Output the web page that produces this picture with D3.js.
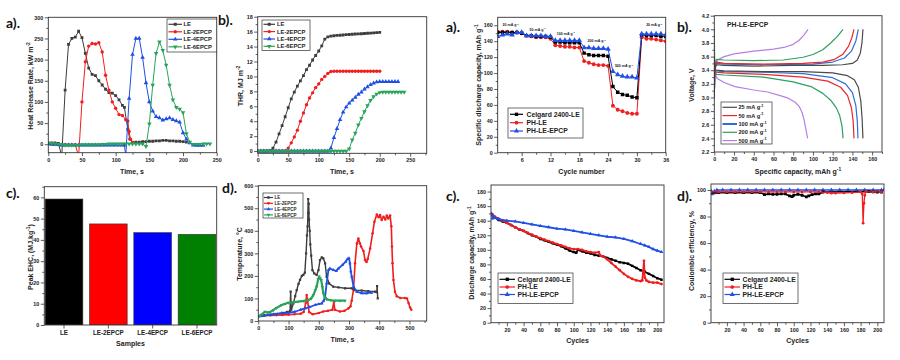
<!DOCTYPE html>
<html><head><meta charset="utf-8">
<script src="https://cdn.jsdelivr.net/npm/d3@7/dist/d3.min.js"></script>
<style>
body{margin:0;background:#fff;}
svg{display:block;font-family:"Liberation Sans",Arial,sans-serif;font-weight:bold;}
</style></head><body>
<svg id="chart" width="900" height="360"></svg>
<script>
// ================= DATA =================
// a) Heat release rate (time s, kW m-2)
const hrrNames = ["LE","LE-2EPCP","LE-4EPCP","LE-6EPCP"];
const hrrLE = [[0,3],[5,3],[10,3],[15,2],[20,-28],[25,128],[30,236],[35,250],[40,253],[45,267],[50,252],[55,215],[60,180],[65,165],[70,162],[75,150],[80,140],[85,130],[90,122],[95,121],[100,115],[105,105],[110,92],[113,87],[118,35],[121,12],[125,4],[130,5],[135,5],[140,6],[145,6],[150,7],[155,7],[160,8],[165,8],[170,9],[175,9],[180,8],[185,8],[190,7],[195,7],[200,6],[205,5]];
const hrr2 = [[0,1],[5,0],[10,0],[15,-1],[20,-1],[25,-1],[30,-1],[35,-1],[40,-1],[45,-28],[50,100],[55,195],[60,232],[65,238],[70,237],[75,240],[80,218],[85,163],[90,128],[95,100],[100,85],[105,70],[110,68],[115,58],[118,55],[120,30],[122,12],[126,4]];
const hrr4 = [[0,1],[5,0],[10,-1],[15,-1],[20,-2],[25,-2],[30,-2],[35,-2],[40,-2],[45,-2],[50,-2],[55,-2],[60,-2],[65,-2],[70,-2],[75,-2],[80,-2],[85,-2],[90,-2],[95,-2],[100,-2],[105,-2],[110,-2],[113,-2],[115,-28],[120,108],[125,212],[130,250],[135,250],[140,205],[145,145],[150,100],[155,78],[160,65],[165,62],[170,57],[175,60],[180,62],[185,58],[190,55],[195,52],[200,27],[205,12],[210,3],[215,-2],[220,-3],[225,-3],[230,-3]];
const hrr6 = [[0,2],[5,2],[10,1],[15,0],[20,-1],[25,-2],[30,-2],[35,-2],[40,-2],[45,-2],[50,-1],[55,-1],[60,-1],[65,-1],[70,-1],[75,-1],[80,0],[85,0],[90,1],[95,1],[100,1],[105,1],[110,1],[115,1],[120,1],[125,1],[130,1],[135,1],[140,1],[145,-5],[150,48],[155,140],[160,215],[165,242],[170,222],[175,187],[180,140],[185,105],[190,87],[195,83],[200,75],[205,25],[210,5],[215,0],[220,0],[225,0],[230,1],[235,1],[240,1]];
const hrrXTicks = [0,50,100,150,200,250];
const hrrYTicks = [0,50,100,150,200,250,300];

// b) Total heat release (time s, MJ m-2)
const thrLE = [[0,0],[5,0],[10,0],[15,0],[20,0.05],[25,0.4],[30,1.2],[35,2.3],[40,3.4],[45,4.6],[50,5.8],[55,7.0],[60,7.9],[65,8.7],[70,9.4],[75,10.1],[80,10.9],[85,11.5],[90,12.2],[95,12.8],[100,13.4],[105,14.1],[110,15.0],[115,15.3],[120,15.4],[125,15.45],[130,15.5],[135,15.52],[140,15.55],[145,15.6],[150,15.62],[155,15.65],[160,15.68],[165,15.7],[170,15.72],[175,15.75],[180,15.78],[185,15.8],[190,15.83],[195,15.86],[200,15.9]];
const thr2 = [[0,0],[5,0],[10,0],[15,0],[20,0],[25,0],[30,0],[35,0],[40,0],[45,0],[50,0.4],[55,1.1],[60,1.9],[65,2.8],[70,4.0],[75,5.1],[80,6.2],[85,7.1],[90,7.8],[95,8.5],[100,9.0],[105,9.6],[110,10.0],[115,10.4],[120,10.65],[125,10.7],[130,10.7],[135,10.7],[140,10.7],[145,10.7],[150,10.7],[155,10.7],[160,10.7],[165,10.7],[170,10.7],[175,10.7],[180,10.7],[185,10.7],[190,10.7],[195,10.7],[200,10.7]];
const thr4 = [[0,0],[5,0],[10,0],[15,0],[20,0],[25,0],[30,0],[35,0],[40,0],[45,0],[50,0],[55,0],[60,0],[65,0],[70,0],[75,0],[80,0],[85,0],[90,0],[95,0],[100,0],[105,0],[110,0],[115,0],[120,0.4],[125,1.8],[130,3.0],[135,4.2],[140,5.2],[145,5.9],[150,6.4],[155,6.8],[160,7.2],[165,7.6],[170,7.9],[175,8.3],[180,8.6],[185,8.9],[190,9.1],[195,9.25],[200,9.3],[205,9.3],[210,9.3],[215,9.3],[220,9.3],[225,9.3],[230,9.3]];
const thr6 = [[0,0],[5,0],[10,0],[15,0],[20,0],[25,0],[30,0],[35,0],[40,0],[45,0],[50,0],[55,0],[60,0],[65,0],[70,0],[75,0],[80,0],[85,0],[90,0],[95,0],[100,0],[105,0],[110,0],[115,0],[120,0],[125,0],[130,0],[135,0],[140,0],[145,0],[150,0.3],[155,1.5],[160,2.4],[165,3.5],[170,4.4],[175,5.3],[180,6.1],[185,6.8],[190,7.3],[195,7.65],[200,7.85],[205,7.9],[210,7.9],[215,7.9],[220,7.9],[225,7.9],[230,7.9],[235,7.9],[240,7.9]];
const thrXTicks = [0,50,100,150,200,250];
const thrYTicks = [0,2,4,6,8,10,12,14,16,18];

// a) Rate capability (cycle number, mAh g-1)
const batNames = ["Celgard 2400-LE","PH-LE","PH-LE-EPCP"];
const rateCycles = [1,2,3,4,5,6,7,8,9,10,11,12,13,14,15,16,17,18,19,20,21,22,23,24,25,26,27,28,29,30,31,32,33,34,35,36];
const rateCelgard = [151,151,151,151,151,150,147,147,146,146,146,145,139,139,138,138,138,138,125,123,122,122,122,121,83,76,73,72,70,69,148,147,147,147,146,146];
const ratePH = [152,152,152,151,151,150,147,146,145,145,145,143,135,134,133,133,132,132,115,113,111,110,110,109,59,54,52,50,49,49,145,143,143,142,141,140];
const rateEPCP = [146,148,149,148,151,151,147,147,147,147,146,146,141,141,141,141,141,141,132,132,131,131,131,130,102,98,96,95,95,94,149,149,149,149,149,148];
const rateNotes = ["20 mA g","50 mA g","100 mA g","200 mA g","500 mA g","20 mA g"];
const rateNoteX = [3.7,9.3,15.2,21.6,27.3,33.6];
const rateNoteY = [160,154.5,149.5,140,109,160];
const rateXTicks = [6,12,18,24,30,36];
const rateYTicks = [0,20,40,60,80,100,120,140,160];

// b) Charge/discharge profiles (mAh g-1, V)
const voltNames = ["25 mA g","50 mA g","100 mA g","200 mA g","500 mA g"];
const volt25c = [[0,3.0],[0.5,3.4],[2,3.48],[10,3.47],[40,3.46],[80,3.47],[110,3.47],[130,3.48],[140,3.5],[145,3.55],[148,3.65],[149.7,3.8],[150.7,4.0]];
const volt25d = [[0,3.6],[0.5,3.42],[2,3.4],[10,3.39],[50,3.38],[90,3.38],[120,3.36],[135,3.32],[142,3.26],[146,3.15],[148.5,2.95],[149.8,2.7],[150.7,2.4]];
const volt50c = [[0,3.0],[0.5,3.42],[2,3.52],[10,3.5],[50,3.49],[90,3.5],[110,3.52],[122,3.56],[130,3.63],[136,3.75],[139.5,3.88],[141.6,4.0]];
const volt50d = [[0,3.6],[0.5,3.4],[2,3.37],[10,3.36],[50,3.34],[90,3.3],[115,3.24],[128,3.15],[135,3.03],[139,2.85],[140.8,2.65],[141.6,2.4]];
const volt100c = [[0,3.0],[0.5,3.42],[2,3.5],[10,3.49],[50,3.48],[100,3.49],[120,3.52],[132,3.58],[139,3.68],[143.5,3.83],[146,4.0]];
const volt100d = [[0,3.6],[0.5,3.41],[2,3.39],[10,3.38],[50,3.37],[90,3.35],[120,3.29],[133,3.2],[140,3.07],[143.5,2.88],[145,2.65],[145.6,2.4]];
const volt200c = [[0,3.0],[0.5,3.45],[2,3.56],[10,3.55],[40,3.54],[70,3.55],[90,3.59],[100,3.63],[110,3.7],[118,3.8],[125,3.9],[130.5,4.0]];
const volt200d = [[0,4.0],[0.5,3.4],[2,3.34],[10,3.33],[50,3.3],[80,3.23],[98,3.16],[110,3.06],[118,2.96],[124,2.84],[127,2.74],[129.5,2.58],[130.5,2.4]];
const volt500c = [[0,3.0],[0.5,3.45],[3,3.55],[10,3.6],[20,3.64],[40,3.68],[60,3.71],[72,3.74],[80,3.78],[86,3.84],[91,3.92],[95,4.0]];
const volt500d = [[0,3.6],[0.5,3.35],[3,3.28],[10,3.22],[21,3.16],[40,3.11],[54,3.08],[66,3.03],[75,2.99],[82,2.93],[86,2.87],[89,2.78],[91,2.67],[93,2.52],[94.6,2.4]];
const voltXTicks = [0,20,40,60,80,100,120,140,160];
const voltYTicks = [2.2,2.4,2.6,2.8,3.0,3.2,3.4,3.6,3.8,4.0,4.2];

// c) Peak EHC bars
const ehcSamples = ["LE","LE-2EPCP","LE-4EPCP","LE-6EPCP"];
const ehcValues = [59.2,47.5,43.4,42.6];
const ehcYTicks = [0,10,20,30,40,50,60];

// d) Temperature (time s, °C)
const tempLE = [[0,22],[20,25],[40,28],[60,32],[80,36],[95,40],[105,44],[107,130],[109,50],[116,78],[122,110],[127,137],[133,165],[138,182],[144,200],[149,205],[154,215],[158,300],[161,380],[163,420],[165,540],[166,480],[167,520],[168,450],[170,400],[172,340],[175,290],[179,226],[185,211],[193,204],[199,226],[204,270],[210,282],[215,278],[221,256],[226,197],[234,167],[248,152],[265,149],[287,145],[309,145],[320,137],[342,135],[364,132],[386,130],[392,128],[393,155],[395,100]];
const temp2 = [[0,22],[20,24],[40,25],[60,26],[80,27],[100,28],[120,30],[140,32],[150,40],[157,80],[160,115],[163,90],[168,40],[180,30],[200,35],[215,42],[230,45],[245,50],[250,85],[253,50],[270,42],[285,45],[298,56],[305,65],[309,90],[315,140],[320,256],[326,344],[331,366],[336,345],[340,330],[348,310],[353,270],[358,262],[362,275],[370,322],[378,389],[384,440],[392,472],[398,460],[403,470],[408,448],[414,462],[420,450],[425,468],[430,455],[436,468],[440,420],[442,330],[444,256],[447,182],[452,130],[458,110],[470,102],[485,102],[492,100],[497,80],[502,60],[506,50]];
const temp4 = [[0,20],[15,22],[33,27],[50,30],[77,34],[100,36],[121,41],[140,50],[155,56],[170,62],[188,71],[200,75],[210,78],[216,90],[221,108],[226,167],[232,226],[237,233],[248,226],[258,222],[265,233],[278,248],[289,263],[295,275],[300,278],[303,256],[306,220],[309,197],[315,152],[326,130],[342,123],[359,123],[370,127],[375,125]];
const temp6 = [[0,20],[10,28],[22,41],[30,38],[39,40],[50,49],[60,58],[77,71],[88,76],[99,81],[115,84],[132,86],[150,89],[166,93],[175,100],[182,115],[188,135],[193,152],[198,185],[201,197],[204,190],[208,182],[212,150],[215,123],[220,105],[226,96],[240,92],[254,90],[270,90],[287,90]];
const tempXTicks = [0,100,200,300,400,500];
const tempYTicks = [0,100,200,300,400,500,600];

// c) Cycling discharge capacity (cycles, mAh g-1)
const cycCelgard = [[1,150],[3,148],[5,145],[10,141],[15,139],[20,137],[25,134],[30,131],[35,128],[40,126],[45,123],[50,120],[55,118],[60,115],[65,113],[70,111],[75,109],[80,107],[85,105],[90,102],[95,99],[100,97],[103,96],[105,100],[110,98],[115,96],[120,95],[125,93],[130,92],[135,91],[140,89],[145,87],[150,85],[155,83],[160,82],[165,81],[170,78],[175,75],[180,72],[185,70],[190,67],[195,64],[200,61],[205,59]];
const cycPH = [[1,149],[3,148],[5,146],[10,143],[15,140],[20,137],[25,134],[30,131],[35,128],[40,126],[45,123],[50,121],[55,118],[60,116],[65,114],[70,112],[75,110],[80,108],[85,106],[90,104],[95,102],[100,101],[105,101],[110,100],[115,98],[120,97],[125,96],[130,97],[132,92],[135,91],[140,87],[145,82],[150,77],[155,72],[160,67],[165,63],[170,60],[175,58],[180,57],[182,58],[183,70],[184,85],[185,62],[187,58],[190,56],[195,55],[200,55],[205,53]];
const cycEPCP = [[1,150],[2,148],[3,143],[5,145],[10,142],[20,140],[30,139],[40,137],[50,135],[60,133],[70,131],[80,129],[90,128],[100,126],[110,124],[120,122],[130,120],[140,118],[150,117],[160,115],[170,112],[180,108],[185,106],[190,104],[195,101],[200,99],[205,97]];
const cycXTicks = [20,40,60,80,100,120,140,160,180,200];
const cycYTicks = [0,20,40,60,80,100,120,140,160,180];

// d) Coulombic efficiency (cycles, %)
const ceCelgard = [[1,98],[10,98],[20,98],[30,98],[40,98],[50,98],[60,98],[65,96.5],[70,97],[75,96.8],[80,96.8],[85,97],[90,97],[95,95.5],[98,95],[100,96],[105,96.8],[110,96],[115,94.8],[118,95.5],[122,96.5],[126,97],[130,97],[135,98.5],[190,98.8],[195,98.6],[200,98.5],[205,98.5]];
const cePH = [[1,98.5],[10,98.5],[20,98.5],[30,98.5],[40,98.5],[50,98.5],[60,98.5],[70,98.5],[80,98.5],[90,98.5],[100,98.5],[110,98.5],[120,98.5],[130,98.5],[140,98],[145,97.6],[150,97.6],[160,97.8],[170,98],[180,98.5],[182,97],[183,75],[184,90],[185,96],[186,98.5],[195,98.5],[205,98.5]];
const ceEPCP = [[1,99.5],[2,97],[3,98],[4,97.5],[5,99],[6,98],[8,100],[15,100],[25,100],[35,100],[45,100],[55,100],[65,100],[75,100],[85,100],[95,100],[105,100],[115,100],[125,100],[135,100],[145,100],[155,100],[165,100],[175,100],[185,100],[195,100],[205,100],[208,100]];
const ceYTicks = [0,20,40,60,80,100];

// ================= DRAWING =================
const svg = d3.select('#chart');
svg.append('rect').attr('width',900).attr('height',360).attr('fill','#fff');
const INK = '#222';
let clipN = 0;

function panel(o){
  const x = o.xScale || d3.scaleLinear().domain(o.xd).range([o.x0,o.x1]);
  const y = d3.scaleLinear().domain(o.yd).range([o.y1,o.y0]);
  const id = 'clip'+(clipN++);
  svg.append('clipPath').attr('id',id).append('rect')
    .attr('x',o.x0).attr('y',o.y0).attr('width',o.x1-o.x0).attr('height',o.y1-o.y0);
  const ax = svg.append('g');
  if(o.xm) ax.append('g').attr('transform',`translate(0,${o.y1})`).call(d3.axisBottom(x).tickValues(o.xm).tickSize(2).tickFormat(''));
  if(o.xt) ax.append('g').attr('transform',`translate(0,${o.y1})`).call(d3.axisBottom(x).tickValues(o.xt).tickSize(3.5).tickPadding(1.5).tickFormat(o.xf||(d=>d)));
  if(o.xBand) ax.append('g').attr('transform',`translate(0,${o.y1})`).attr('class','band').call(d3.axisBottom(x).tickSize(3.5).tickPadding(2.5));
  if(o.ym) ax.append('g').attr('transform',`translate(${o.x0},0)`).call(d3.axisLeft(y).tickValues(o.ym).tickSize(2).tickFormat(''));
  if(o.yt) ax.append('g').attr('transform',`translate(${o.x0},0)`).call(d3.axisLeft(y).tickValues(o.yt).tickSize(3.5).tickPadding(1.5).tickFormat(o.yf||(d=>d)));
  ax.selectAll('.domain').remove();
  ax.selectAll('g').attr('font-size',null).attr('font-family',null);
  ax.selectAll('line').attr('stroke','#333').attr('stroke-width',0.8);
  ax.selectAll('text').attr('fill',INK).style('font-size','5.4px');
  ax.selectAll('.band text').style('font-size','6.3px');
  const plot = svg.append('g').attr('clip-path',`url(#${id})`);
  svg.append('rect').attr('x',o.x0).attr('y',o.y0).attr('width',o.x1-o.x0).attr('height',o.y1-o.y0)
    .attr('fill','none').attr('stroke','#333').attr('stroke-width',0.9);
  return {x,y,plot};
}

function rich(x,y,parts,fs,rot,anchor){
  const t = svg.append('text').attr('font-size',fs).attr('text-anchor',anchor||'middle').attr('fill',INK);
  if(rot) t.attr('transform',`translate(${x},${y}) rotate(${rot})`); else t.attr('x',x).attr('y',y);
  let up = false;
  parts.forEach(p=>{
    if(Array.isArray(p)){
      t.append('tspan').attr('dy',-fs*0.4).attr('font-size',fs*0.7).text(p[0]); up = true;
    } else {
      const s = t.append('tspan').text(p);
      if(up){ s.attr('dy',fs*0.4); up = false; }
    }
  });
  return t;
}

const SYM = {sq:d3.symbolSquare, ci:d3.symbolCircle, tu:d3.symbolTriangle, td:d3.symbolTriangle};
function series(p,data,color,sym,size,lw){
  p.plot.append('path').datum(data)
    .attr('d',d3.line().x(d=>p.x(d[0])).y(d=>p.y(d[1])))
    .attr('fill','none').attr('stroke',color).attr('stroke-width',lw).attr('stroke-linejoin','round');
  if(sym){
    p.plot.append('g').selectAll('path').data(data).join('path')
      .attr('d',d3.symbol(SYM[sym],size))
      .attr('transform',d=>`translate(${p.x(d[0])},${p.y(d[1])})${sym==='td'?' rotate(180)':''}`)
      .attr('fill',color);
  }
}

function legend(bx,by,bw,bh,items,fs,rowY,lineX0,lineX1,textX,symSize){
  svg.append('rect').attr('x',bx).attr('y',by).attr('width',bw).attr('height',bh)
    .attr('fill','#fff').attr('stroke','#333').attr('stroke-width',0.7);
  items.forEach((it,i)=>{
    const yy = rowY[i];
    svg.append('line').attr('x1',lineX0).attr('x2',lineX1).attr('y1',yy).attr('y2',yy)
      .attr('stroke',it.c).attr('stroke-width',it.lw||1.2);
    if(it.s) svg.append('path').attr('d',d3.symbol(SYM[it.s],symSize)())
      .attr('transform',`translate(${(lineX0+lineX1)/2},${yy})${it.s==='td'?' rotate(180)':''}`).attr('fill',it.c);
    rich(textX,yy+fs*0.36,[it.t].concat(it.sup?[[it.sup]]:[]),fs,0,'start');
  });
}

function panelLabel(x,y,t){
  svg.append('text').attr('x',x).attr('y',y).attr('font-family','Lato, "Open Sans", sans-serif')
    .attr('font-weight','bold').attr('font-size',14).attr('fill','#111').text(t);
}

const cGray='#3d3d3d', cRed='#f01e1e', cBlue='#1f4fe6', cGreen='#2aa35a';

// ---- a) HRR
{
  const p = panel({x0:48.3,x1:216.7,y0:17.3,y1:152.7,xd:[0,250],yd:[-20,300],
    xt:hrrXTicks,xm:[25,75,125,175,225],yt:hrrYTicks,ym:[25,75,125,175,225,275]});
  series(p,hrrLE,cGray,'sq',8,1);
  series(p,hrr2,cRed,'ci',9,1);
  series(p,hrr4,cBlue,'tu',9,1);
  series(p,hrr6,cGreen,'td',9,1);
  legend(167,19,49.7,33,[{t:hrrNames[0],c:cGray,s:'sq'},{t:hrrNames[1],c:cRed,s:'ci'},{t:hrrNames[2],c:cBlue,s:'tu'},{t:hrrNames[3],c:cGreen,s:'td'}],
    5.8,[24.3,31.8,39.3,46.8],168.5,182,183.5,9);
  rich(32.5,86,['Heat Release Rate, kW m',['-2']],7,-90);
  rich(132,173.5,['Time, s'],7);
  panelLabel(6,28,'a).');
}
// ---- b) THR
{
  const p = panel({x0:257.7,x1:426.7,y0:16.7,y1:153.3,xd:[0,277],yd:[-0.3,18],
    xt:thrXTicks,xm:[25,75,125,175,225,275],yt:thrYTicks,ym:[1,3,5,7,9,11,13,15,17]});
  series(p,thrLE,cGray,'sq',8,1);
  series(p,thr2,cRed,'ci',9,1);
  series(p,thr4,cBlue,'tu',9,1);
  series(p,thr6,cGreen,'td',9,1);
  legend(262,20,48,30.5,[{t:hrrNames[0],c:cGray,s:'sq'},{t:hrrNames[1],c:cRed,s:'ci'},{t:hrrNames[2],c:cBlue,s:'tu'},{t:hrrNames[3],c:cGreen,s:'td'}],
    5.8,[24.3,31.6,39,46.3],263.5,275,277,9);
  rich(242.5,86,['THR, MJ m',['-2']],7,-90);
  rich(342,173.5,['Time, s'],7);
  panelLabel(218,25,'b).');
}
// ---- a) rate capability
{
  const p = panel({x0:497.7,x1:665.7,y0:17.3,y1:152.7,xd:[1,36],yd:[0,170],
    xt:rateXTicks,xm:[3,9,15,21,27,33],yt:rateYTicks,ym:[10,30,50,70,90,110,130,150]});
  const mk = v=>rateCycles.map((c,i)=>[c,v[i]]);
  series(p,mk(ratePH),cRed,'ci',12,1);
  series(p,mk(rateCelgard),'#000','sq',12,1);
  series(p,mk(rateEPCP),cBlue,'tu',13,1);
  rateNotes.forEach((t,i)=>rich(p.x(rateNoteX[i]),p.y(rateNoteY[i])+1.2,[t,['-1']],3.6));
  legend(508,108,75,30,[{t:batNames[0],c:'#000',s:'sq'},{t:batNames[1],c:cRed,s:'ci'},{t:batNames[2],c:cBlue,s:'tu'}],
    6.8,[114.3,122.7,131],510,523,526.5,11);
  rich(481,85,['Specific discharge capacity, mAh g',['-1']],7,-90);
  rich(581.5,173.5,['Cycle number'],7);
  panelLabel(446,32,'a).');
}
// ---- b) voltage profiles
{
  const p = panel({x0:714.3,x1:882,y0:15.7,y1:152,xd:[0,170],yd:[2.2,4.2],
    xt:voltXTicks,xm:[10,30,50,70,90,110,130,150,170],yt:voltYTicks,yf:d3.format('.1f'),ym:[2.3,2.5,2.7,2.9,3.1,3.3,3.5,3.7,3.9,4.1]});
  const vc = ['#4a4a4a','#e8262a','#2d6fd6','#2ca060','#b77fe3'];
  const sets = [[volt25c,volt25d],[volt50c,volt50d],[volt100c,volt100d],[volt200c,volt200d],[volt500c,volt500d]];
  for(let i=4;i>=0;i--){ series(p,sets[i][0],vc[i],null,0,1.2); series(p,sets[i][1],vc[i],null,0,1.2); }
  legend(721,102,51,42,voltNames.map((t,i)=>({t:t,sup:'-1',c:vc[i],lw:i===2?2:1.2})),
    5.6,[107.3,115.6,124,132.3,140.6],722.5,737,738.5,0);
  rich(727,26.5,['PH-LE-EPCP'],6.8,0,'start');
  rich(694,85,['Voltage, V'],7,-90);
  rich(798,173.5,['Specific capacity, mAh g',['-1']],7);
  panelLabel(677,32,'b).');
}
// ---- c) Peak EHC bars
{
  const xb = d3.scaleBand().domain(ehcSamples).range([44.3,216.7]).paddingInner(0.15).paddingOuter(0.02);
  const p = panel({x0:44.3,x1:216.7,y0:186.7,y1:325,xScale:xb,xBand:true,yd:[0,65],
    yt:ehcYTicks,ym:[5,15,25,35,45,55,65]});
  const bc = ['#000000','#ff0000','#0000ff','#008000'];
  p.plot.selectAll('rect.bar').data(ehcValues).join('rect').attr('class','bar')
    .attr('x',(d,i)=>xb(ehcSamples[i])).attr('width',xb.bandwidth())
    .attr('y',d=>p.y(d)).attr('height',d=>p.y(0)-p.y(d))
    .attr('fill',(d,i)=>bc[i]).attr('stroke','#333').attr('stroke-width',0.6);
  rich(32.5,257,['Peak EHC, (MJ.kg',['-1'],')'],7,-90);
  rich(130.5,346,['Samples'],7);
  panelLabel(6,198,'c).');
}
// ---- d) temperature
{
  const p = panel({x0:258.3,x1:426.7,y0:185.7,y1:321,xd:[0,557],yd:[0,600],
    xt:tempXTicks,xm:[50,150,250,350,450,550],yt:tempYTicks,ym:[50,150,250,350,450,550]});
  series(p,temp2,cRed,'ci',5,1.6);
  series(p,tempLE,cGray,'sq',5,1.4);
  series(p,temp4,cBlue,'tu',5,1.8);
  series(p,temp6,cGreen,'td',5,2.2);
  legend(263,193,40,25,[{t:hrrNames[0],c:cGray,s:'sq'},{t:hrrNames[1],c:cRed,s:'ci'},{t:hrrNames[2],c:cBlue,s:'tu'},{t:hrrNames[3],c:cGreen,s:'td'}],
    4.5,[197.5,203.3,209.1,214.9],264,273,274.5,6);
  rich(241.5,254,['Temperature, \u00B0C'],7,-90);
  rich(342.5,341.5,['Time, s'],7);
  panelLabel(222,193,'d).');
}
// ---- c) discharge capacity vs cycles
{
  const p = panel({x0:491,x1:664,y0:185,y1:322.7,xd:[1,208],yd:[0,189],
    xt:cycXTicks,xm:[10,30,50,70,90,110,130,150,170,190],yt:cycYTicks,ym:[10,30,50,70,90,110,130,150,170]});
  series(p,cycCelgard,'#000','sq',6,1.8);
  series(p,cycPH,cRed,'ci',6,1.8);
  series(p,cycEPCP,cBlue,'tu',6,1.8);
  legend(498,273,75,30.5,[{t:batNames[0],c:'#000',s:'sq'},{t:batNames[1],c:cRed,s:'ci'},{t:batNames[2],c:cBlue,s:'tu'}],
    6.8,[279.3,287,294.5],499.5,515,517.5,11);
  rich(474,253,['Discharge capacity, mAh g',['-1']],7,-90);
  rich(577.5,343,['Cycles'],7);
  panelLabel(446,201,'c).');
}
// ---- d) coulombic efficiency
{
  const p = panel({x0:711,x1:884,y0:184,y1:322.7,xd:[1,208],yd:[0,104.5],
    xt:cycXTicks,xm:[10,30,50,70,90,110,130,150,170,190],yt:ceYTicks,ym:[10,30,50,70,90]});
  series(p,ceEPCP,cBlue,'tu',8,1.6);
  series(p,ceCelgard,'#000','sq',8,1.6);
  series(p,cePH,cRed,'ci',6,1.3);
  legend(723,273,75,30.5,[{t:batNames[0],c:'#000',s:'sq'},{t:batNames[1],c:cRed,s:'ci'},{t:batNames[2],c:cBlue,s:'tu'}],
    6.8,[279.3,287,294.5],724.5,740,742.5,11);
  rich(694,251,['Coulombic efficiency, %'],7,-90);
  rich(797.5,343,['Cycles'],7);
  panelLabel(677,201,'d).');
}
</script></body></html>
